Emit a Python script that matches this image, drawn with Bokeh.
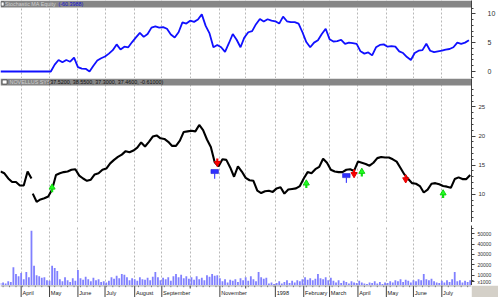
from bokeh.plotting import figure
from bokeh.layouts import column
from bokeh.models import Range1d, FixedTicker, Grid, Span
from bokeh.core.properties import value
from bokeh.embed import file_html
from bokeh.resources import INLINE

FONT = "Liberation Sans"

# ---------------- data ----------------
n_days = 365  # trading days on the x axis (index)
month_starts = [16, 38, 60, 81, 104, 125, 147, 170, 190, 213, 235, 255, 277, 299, 320, 342]
month_labels = ["April", "May", "June", "July", "August", "September", "", "November", "",
                "1998", "February", "March", "April", "May", "June", "July"]

equity_step = 3
equity = [0, 0, 0, 0, 0, 0, 0, 0, 0, 0, 0, 0, 0, 0,
          1.2, 2.0, 1.6, 2.0, 1.7, 2.4, 0.75, 0.5, 0.46, 0.0,
          1.0, 1.9, 2.3, 2.6, 3.1, 3.7, 4.7, 3.8, 4.3, 4.2,
          5.1, 5.9, 6.7, 6.0, 6.5, 7.6, 7.8, 7.6, 7.7, 7.4,
          6.4, 5.9, 6.8, 8.5, 8.3, 8.8, 8.6, 9.0, 9.9, 7.9,
          6.6, 4.2, 4.6, 4.2, 3.4, 4.9, 6.5, 5.5, 4.2, 5.9,
          6.8, 7.0, 8.2, 9.1, 8.65, 9.05, 8.8, 8.7, 8.3, 9.5,
          8.7, 8.55, 8.55, 8.3, 6.8, 5.1, 4.2, 5.0, 5.4, 6.5,
          7.4, 5.6, 5.2, 5.25, 5.5, 4.8, 5.0, 4.9, 4.8, 3.5,
          3.1, 3.3, 2.8, 4.2, 4.6, 4.7, 4.3, 4.4, 4.3, 3.5,
          3.2, 2.5, 2.0, 3.2, 3.6, 3.7, 4.8, 3.6, 3.35, 3.5,
          3.6, 3.8, 3.9, 4.2, 5.0, 4.8, 5.0, 5.4]

price_step = 3
price_seg1_start = 0
price_seg1 = [13.9, 13.6, 12.7, 12.1, 12.1, 11.5, 11.5, 13.9, 12.7]
price_seg2_start = 25
price_seg2 = [10.1, 8.7, 9.1, 9.3, 9.6, 10.8, 13.3, 13.6, 13.8, 13.9,
              14.2, 14.3, 13.2, 12.7, 12.3, 12.5, 13.4, 13.6, 14.2, 14.4,
              15.3, 15.9, 16.4, 16.8, 17.4, 17.2, 17.5, 18.0, 18.9, 18.2,
              19.0, 19.9, 20.1, 19.6, 19.5, 19.0, 18.3, 18.3, 19.2, 20.7,
              20.8, 20.9, 20.8, 21.9, 21.0, 19.4, 18.1, 15.5, 14.8, 16.0,
              15.9, 14.6, 13.0, 14.8, 13.9, 12.8, 12.4, 12.3, 10.6, 10.2,
              10.5, 10.6, 10.4, 11.0, 11.2, 10.1, 10.8, 10.9, 11.0, 11.4,
              12.7, 13.8, 13.6, 14.3, 14.7, 16.1, 15.4, 14.2, 13.9, 13.8,
              13.8, 14.2, 14.3, 14.0, 15.6, 15.4, 15.2, 14.9, 15.4, 16.2,
              16.4, 16.3, 16.3, 16.0, 15.6, 14.5, 13.4, 12.6, 11.9, 11.8,
              11.4, 10.3, 10.8, 11.8, 11.9, 11.7, 11.4, 11.3, 11.1, 12.6,
              12.9, 12.6, 12.6, 13.3]

volume_step = 2
volume = [2500, 3000, 2000, 4000, 3500, 17700, 11000, 9000, 12000, 6000,
          13000, 8000, 53000, 19000, 10000, 9000, 7500, 8000, 5000, 4500,
          19000, 17000, 14000, 6000, 4000, 8000, 5000, 3500, 7000, 4500,
          15000, 7000, 5500, 8500, 6000, 4000, 7500, 5000, 6000, 3500,
          4000, 3000, 4500, 8000, 6500, 9500, 7000, 11000, 10500, 8000,
          5000, 7000, 6000, 4500, 8000, 6000, 5500, 7500, 5000, 8500,
          13000, 8000, 5000, 7500, 6000, 8000, 4500, 9000, 11000, 8000,
          10500, 7000, 9000, 6500, 8000, 5500, 9000, 6000, 7500, 5000,
          10000, 8500, 11000, 9500, 10000, 7000, 4000, 6000, 3000, 5500,
          4500, 6000, 3500, 7000, 5000, 8000, 4500, 9000, 6000, 4000,
          13000, 8000, 6500, 7500, 2000, 3000, 1500, 2500, 4000, 2000,
          3500, 5000, 2500, 4500, 3000, 5000, 4000, 6000, 8000, 5500,
          7000, 5000, 6500, 11000, 7000, 6000, 8000, 5000, 7500, 4500,
          3000, 5000, 2500, 4500, 3500, 2000, 4000, 3000, 2500, 4500,
          3000, 2000, 1500, 3000, 2500, 4000, 2000, 3500, 1500, 3000,
          2500, 4000, 3000, 5000, 4000, 6000, 3500, 5500, 4500, 3000,
          5000, 4000, 6000, 5000, 11000, 6000, 5000, 6500, 4000, 3000,
          2500, 4500, 3000, 5000, 3500, 6000, 13000, 4000, 5000, 3000,
          4500, 3500, 5000]
volume_ticks = [10000, 20000, 30000, 40000, 50000]
volume_unit_label = "x1000"

buy_days = [40, 237, 280, 343]
buy_levels = [11.7, 12.4, 14.4, 10.7]
sell_days = [168, 274, 314]
sell_levels = [14.8, 12.9, 12.0]
exit_days = [166, 268]
exit_levels = [13.9, 13.2]

equity_title = "Stochastic MA Equity"
equity_value = "(-60.3988)"
price_title = "NOVELLUS SYS"
price_values = "(37.5200, 38.5500, 37.3000, 37.4600, -0.61000)"


def days(start, step, n):
    return [start + step * i for i in range(n)]


xr = Range1d(0, n_days)
BAR_H = 7
BAR_GRAY = "#868686"
FRAME_W = 471


def panel(fh, yr, ticks, minor, label_size, tick_out, standoff, overrides=None):
    p = figure(frame_width=FRAME_W, height=fh, x_range=xr, y_range=Range1d(*yr),
               x_axis_location=None, y_axis_location="right", toolbar_location=None,
               output_backend="svg", min_border=0, min_border_right=27,
               background_fill_color="white", border_fill_color="white",
               outline_line_color=None)
    p.grid.visible = False
    p.add_layout(Grid(dimension=0, ticker=FixedTicker(ticks=month_starts),
                      grid_line_color="#b8b8b8", grid_line_dash="2 2", grid_line_width=1))
    p.extra_x_ranges = {"px": Range1d(0, FRAME_W)}
    p.extra_y_ranges = {"px": Range1d(fh, 0)}
    ax = p.yaxis[0]
    ax.ticker = FixedTicker(ticks=ticks, minor_ticks=minor)
    ax.axis_line_color = "#404040"
    ax.major_tick_line_color = "#404040"
    ax.minor_tick_line_color = "#404040"
    ax.major_tick_out = tick_out
    ax.major_tick_in = 0
    ax.minor_tick_out = 2
    ax.minor_tick_in = 0
    ax.major_label_text_font = FONT
    ax.major_label_text_font_size = label_size
    ax.major_label_text_color = "#303030"
    ax.major_label_standoff = standoff
    if overrides:
        ax.major_label_overrides = overrides
    return p


def add_bar(p, parts, icon):
    kw = dict(x_range_name="px", y_range_name="px")
    p.quad(left=[0], right=[FRAME_W], top=[0], bottom=[BAR_H], fill_color=BAR_GRAY,
           line_color=None, **kw)
    p.quad(left=[icon[0]], right=[icon[1]], top=[1.5], bottom=[5.5], fill_color="white",
           line_color="#303030", line_width=0.6, **kw)
    for x, txt, col in parts:
        p.text(x=[x], y=[3.7], text=[txt], text_color=col, text_font=value(FONT),
               text_font_size="5.4px", text_baseline="middle", text_align="left", **kw)


# ---- equity panel (frame includes its 7 px title bar) ----
TOP_FH = 78
top = panel(TOP_FH, (-1.21, 12.30), [0, 5, 10], list(range(-1, 12)), "7px", 4, 12)
top.line(days(0, equity_step, len(equity)), equity, line_color="#1010ff", line_width=1.8)
add_bar(top, [(4.5, equity_title, "#d0d0d0"), (58, equity_value, "#1010d0")], (0.6, 3.6))

# ---- price panel ----
MID_FH = 144
mid = panel(MID_FH, (5.14, 29.88), [10, 15, 20, 25], list(range(6, 29)), "6px", 4, 3)
mid.line(days(price_seg1_start, price_step, len(price_seg1)), price_seg1,
         line_color="black", line_width=2.1)
mid.line(days(price_seg2_start, price_step, len(price_seg2)), price_seg2,
         line_color="black", line_width=2.1)

HEAD = 0.52
SHAFT = 1.35
mid.segment(x0=buy_days, y0=[v - SHAFT for v in buy_levels], x1=buy_days,
            y1=[v - HEAD for v in buy_levels], line_color="#10e010", line_width=2.2)
mid.scatter(buy_days, [v - HEAD for v in buy_levels], marker="triangle", size=6,
            fill_color="#22ff22", line_color="#10d010")
mid.segment(x0=sell_days, y0=[v + SHAFT for v in sell_levels], x1=sell_days,
            y1=[v + HEAD for v in sell_levels], line_color="#ff0000", line_width=2.2)
mid.scatter(sell_days, [v + HEAD for v in sell_levels], marker="inverted_triangle", size=6,
            fill_color="#ff0000", line_color="#e00000")
mid.segment(x0=exit_days, y0=[v - 0.35 for v in exit_levels], x1=exit_days,
            y1=[v - 1.25 for v in exit_levels], line_color="#2020ff", line_width=1)
mid.rect(x=exit_days, y=exit_levels, width=5.8, height=0.7, fill_color="#3030ff",
         line_color="#2020d0", line_width=0.6)
add_bar(mid, [(9, price_title, "#d0d0d0"), (48, price_values, "#101010")], (1.7, 6.5))

# ---- separator ----
sep = figure(width=498, height=3, x_range=Range1d(0, 1), y_range=Range1d(0, 1),
             x_axis_location=None, y_axis_location=None, toolbar_location=None,
             output_backend="svg", min_border=0, background_fill_color="#8c8c8c",
             border_fill_color="#8c8c8c", outline_line_color=None)
sep.grid.visible = False

# ---- volume panel ----
VOL_FH = 60
unit_tick = 3400  # where the unit box sits on the volume scale
vol = panel(VOL_FH, (0, 57970), [unit_tick] + volume_ticks,
            list(range(0, 60000, 5000)), "5px", 3, 3,
            overrides={unit_tick: volume_unit_label})
vol.vbar(x=days(0, volume_step, len(volume)), top=volume, width=1.4,
         fill_color="#8080ff", line_color=None)

# ---- date strip ----
strip = figure(frame_width=FRAME_W, height=12, x_range=xr, y_range=Range1d(0, 12),
               x_axis_location=None, y_axis_location=None, toolbar_location=None,
               output_backend="svg", min_border=0, min_border_right=27,
               background_fill_color="white", border_fill_color="#d4d0c8",
               outline_line_color=None)
strip.grid.visible = False
strip.add_layout(Span(location=11.7, dimension="width", line_color="#707070", line_width=1))
lab_x = [m for m, l in zip(month_starts, month_labels) if l]
lab_t = [l for l in month_labels if l]
unl_x = [m for m, l in zip(month_starts, month_labels) if not l]
strip.segment(x0=lab_x, y0=[0] * len(lab_x), x1=lab_x, y1=[12] * len(lab_x),
              line_color="#404040", line_width=1)
strip.segment(x0=unl_x, y0=[9] * len(unl_x), x1=unl_x, y1=[12] * len(unl_x),
              line_color="#404040", line_width=1)
wk = list(range(2, n_days, 5))
strip.segment(x0=wk, y0=[10.3] * len(wk), x1=wk, y1=[12] * len(wk),
              line_color="#606060", line_width=0.8)
strip.text(x=[m + 1.0 for m in lab_x], y=[4.8] * len(lab_x), text=lab_t,
           text_font=value(FONT), text_font_size="5.6px", text_color="#202020",
           text_align="left", text_baseline="middle")

layout = column(top, mid, sep, vol, strip, spacing=0)
open("out.html", "w").write(file_html(layout, INLINE))
